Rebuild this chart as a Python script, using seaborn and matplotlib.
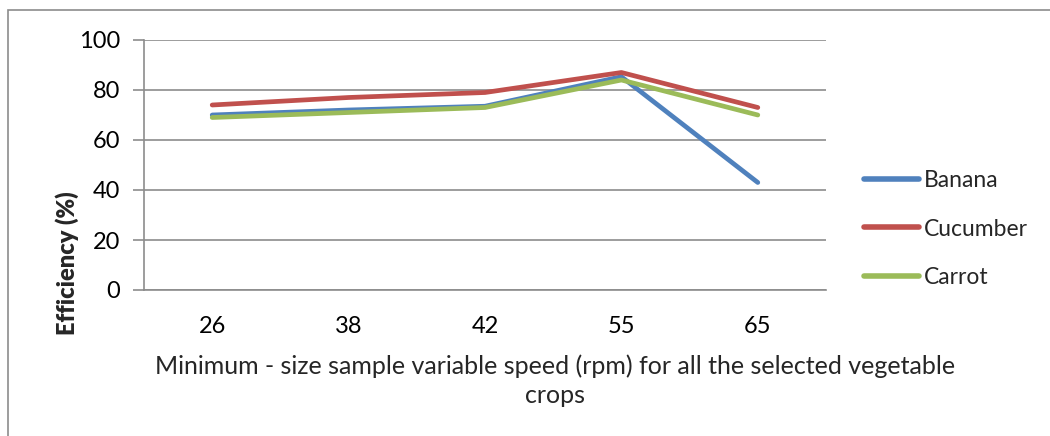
import matplotlib
matplotlib.use("Agg")
import matplotlib.pyplot as plt
import seaborn as sns
import pandas as pd
from matplotlib.patches import Rectangle

speeds = ["26", "38", "42", "55", "65"]
banana = [70, 72, 73.5, 85.3, 43]
cucumber = [74, 77, 79, 87, 73]
carrot = [69, 71, 73, 84, 70]
series_names = ["Banana", "Cucumber", "Carrot"]
colors = ["#4F81BD", "#C0504D", "#9BBB59"]

rows = []
for name, vals in zip(series_names, [banana, cucumber, carrot]):
    for s, v in zip(speeds, vals):
        rows.append({"speed": s, "eff": v, "crop": name})
df = pd.DataFrame(rows)

sns.set_theme(style="white")
plt.rcParams["font.family"] = ["Lato", "DejaVu Sans"]

fig = plt.figure(figsize=(10.5, 4.36), dpi=100)
ax = fig.add_axes([144/1050, 1-290/436, (826-144)/1050, 250/436])

sns.lineplot(data=df, x="speed", y="eff", hue="crop", hue_order=series_names,
             palette=colors, linewidth=3.4, ax=ax, sort=False,
             solid_capstyle="round")

ax.set_xlim(-0.5, 4.5)
ax.set_ylim(0, 100)
ax.set_yticks([0, 20, 40, 60, 80, 100])
ax.yaxis.grid(True, color="#8c8c8c", linewidth=1.2)
ax.set_axisbelow(True)
for sp in ["top", "right"]:
    ax.spines[sp].set_visible(False)
ax.spines["left"].set_color("#8c8c8c")
ax.spines["left"].set_linewidth(1.2)
ax.spines["bottom"].set_color("#8c8c8c")
ax.spines["bottom"].set_linewidth(1.2)
ax.tick_params(axis="y", which="major", left=True, length=8, width=1.2,
               color="#8c8c8c", labelsize=17, pad=9, labelcolor="black")
ax.tick_params(axis="x", bottom=False, labelsize=17, pad=13, labelcolor="black")

ax.set_ylabel("Efficiency (%)", fontsize=17, fontweight="heavy", labelpad=0)
ax.yaxis.label.set_y((290-263)/250)
ax.set_xlabel("Minimum - size sample variable speed (rpm) for all the selected vegetable\ncrops",
              fontsize=18, labelpad=12, linespacing=1.35)
ax.xaxis.label.set_x((555-144)/(826-144))

leg = ax.legend(loc="center left", bbox_to_anchor=((855-144)/682, (290-229)/250), frameon=False,
                fontsize=16.5, handlelength=2.4, handletextpad=0.2,
                labelspacing=1.2, borderaxespad=0)
for line in leg.get_lines():
    line.set_linewidth(4)

fig.patches.append(Rectangle((8/1050, -0.1), 2, 1 - 10/436 + 0.1,
                             transform=fig.transFigure, fill=False,
                             edgecolor="#8c8c8c", linewidth=1.2))

fig.savefig("out.png", dpi=100, facecolor="white")
